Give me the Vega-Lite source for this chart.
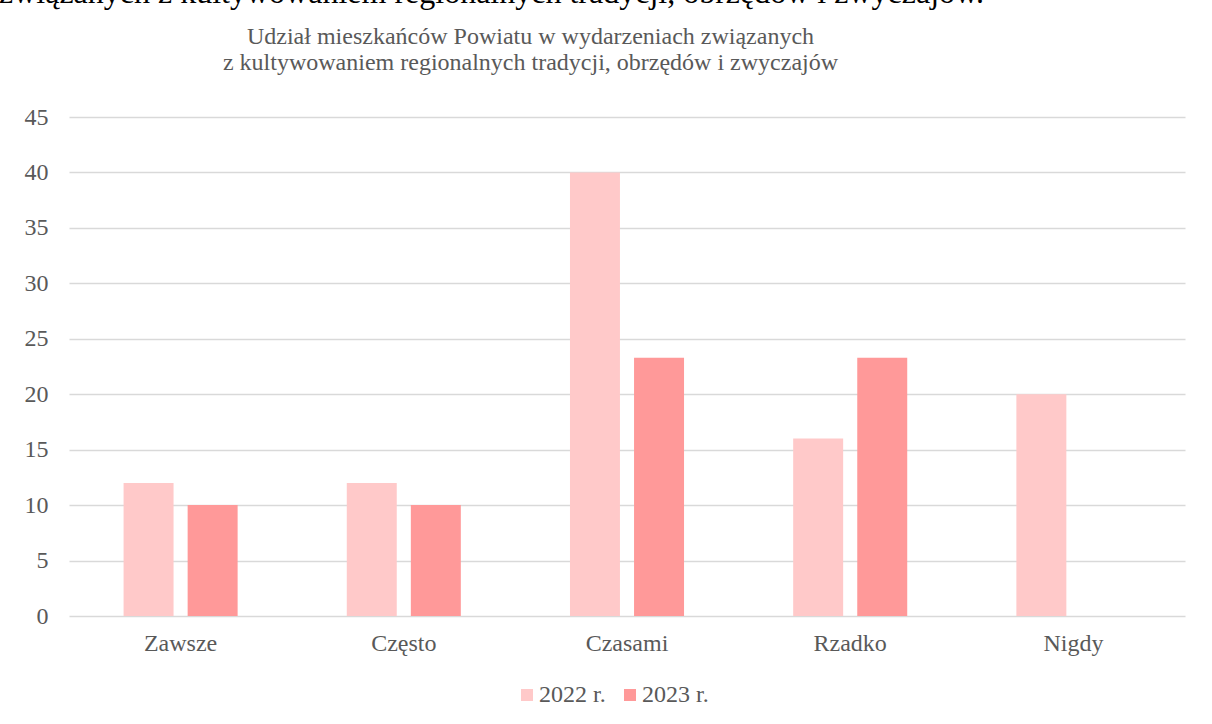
{
  "$schema": "https://vega.github.io/schema/vega-lite/v6.json",
  "width": 1116,
  "height": 499,
  "autosize": {"type": "none"},
  "padding": {"left": 69, "top": 117, "right": 27, "bottom": 108},
  "background": "white",
  "config": {"font": "Liberation Serif", "view": {"stroke": null}},
  "title": {
    "text": "związanych z kultywowaniem regionalnych tradycji, obrzędów i zwyczajów.",
    "font": "Liberation Serif",
    "fontSize": 32,
    "fontWeight": "normal",
    "color": "#000000",
    "anchor": "start",
    "frame": "group",
    "dx": -70,
    "offset": 14
  },
  "data": {
    "values": [
      {"kategoria": "Zawsze", "rok": "2022 r.", "wartosc": 12},
      {"kategoria": "Zawsze", "rok": "2023 r.", "wartosc": 10},
      {"kategoria": "Często", "rok": "2022 r.", "wartosc": 12},
      {"kategoria": "Często", "rok": "2023 r.", "wartosc": 10},
      {"kategoria": "Czasami", "rok": "2022 r.", "wartosc": 40},
      {"kategoria": "Czasami", "rok": "2023 r.", "wartosc": 23.3},
      {"kategoria": "Rzadko", "rok": "2022 r.", "wartosc": 16},
      {"kategoria": "Rzadko", "rok": "2023 r.", "wartosc": 23.3},
      {"kategoria": "Nigdy", "rok": "2022 r.", "wartosc": 20},
      {"kategoria": "Nigdy", "rok": "2023 r.", "wartosc": 0}
    ]
  },
  "layer": [
    {
      "mark": {"type": "bar"},
      "encoding": {
        "x": {
          "field": "kategoria",
          "type": "nominal",
          "sort": ["Zawsze", "Często", "Czasami", "Rzadko", "Nigdy"],
          "scale": {"paddingInner": 0.489, "paddingOuter": 0.2445},
          "axis": {
            "orient": "bottom",
            "title": null,
            "domain": false,
            "ticks": false,
            "grid": false,
            "labelAngle": 0,
            "labelFont": "Liberation Serif",
            "labelFontSize": 24,
            "labelColor": "#595959",
            "labelPadding": 15
          }
        },
        "xOffset": {
          "field": "rok",
          "type": "nominal",
          "scale": {"paddingInner": 0.22, "paddingOuter": 0}
        },
        "y": {
          "field": "wartosc",
          "type": "quantitative",
          "scale": {"domain": [0, 45], "nice": false},
          "axis": {
            "title": null,
            "values": [0, 5, 10, 15, 20, 25, 30, 35, 40, 45],
            "domain": false,
            "ticks": false,
            "gridColor": "#d9d9d9",
            "gridWidth": 1.5,
            "labelFont": "Liberation Serif",
            "labelFontSize": 24,
            "labelColor": "#595959",
            "labelPadding": 21
          }
        },
        "color": {
          "field": "rok",
          "type": "nominal",
          "scale": {"domain": ["2022 r.", "2023 r."], "range": ["#ffc9c9", "#ff9999"]},
          "legend": {
            "title": null,
            "orient": "none",
            "legendX": 446,
            "legendY": 566,
            "direction": "horizontal",
            "symbolType": "square",
            "symbolSize": 144,
            "symbolStrokeWidth": 0,
            "labelFont": "Liberation Serif",
            "labelFontSize": 24,
            "labelColor": "#595959",
            "labelOffset": 0,
            "columnPadding": 12
          }
        }
      }
    },
    {
      "mark": {"type": "point", "opacity": 0},
      "encoding": {
        "x": {
          "field": "kategoria",
          "type": "nominal",
          "sort": ["Zawsze", "Często", "Czasami", "Rzadko", "Nigdy"],
          "axis": {
            "orient": "top",
            "labels": false,
            "ticks": false,
            "domain": false,
            "grid": false,
            "title": ["Udział mieszkańców Powiatu w wydarzeniach związanych", "z kultywowaniem regionalnych tradycji, obrzędów i zwyczajów"],
            "titleFont": "Liberation Serif",
            "titleFontSize": 24,
            "titleFontWeight": "normal",
            "titleColor": "#595959",
            "titleLineHeight": 26,
            "titleAlign": "center",
            "titleBaseline": "alphabetic",
            "titleX": 461,
            "titleY": -74
          }
        }
      }
    }
  ]
}
